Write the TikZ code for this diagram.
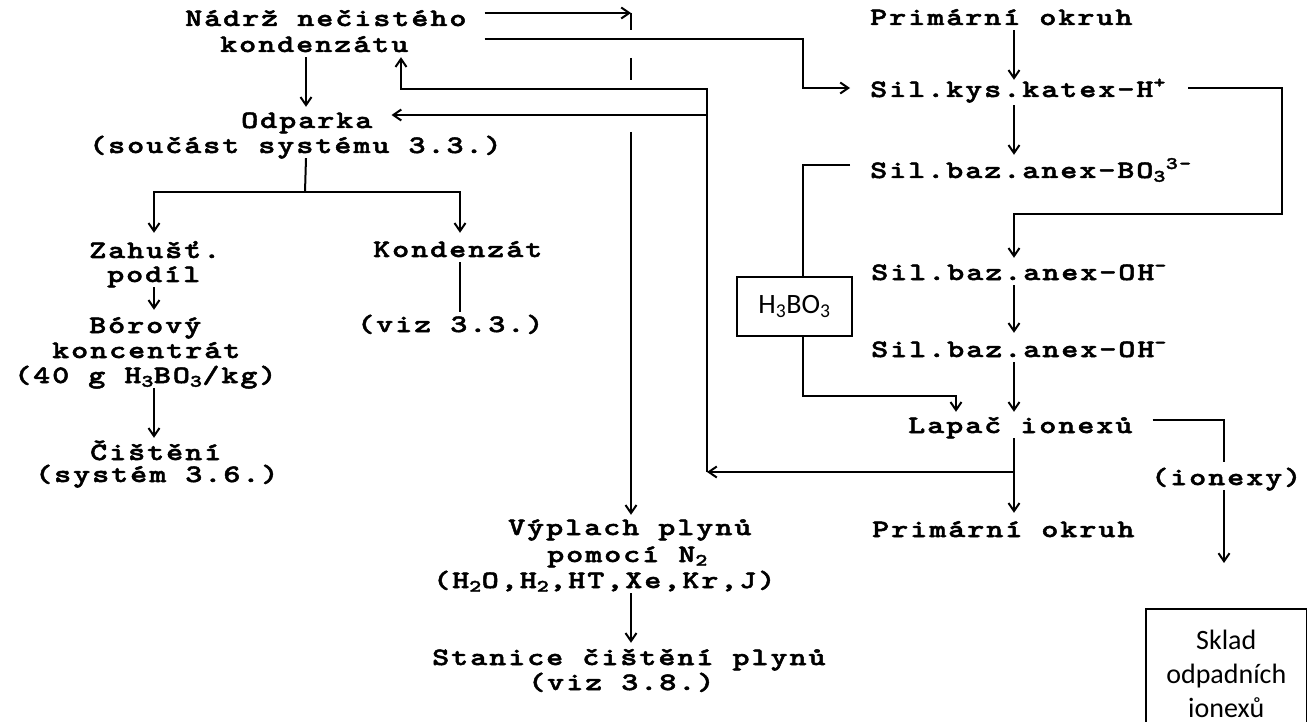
\documentclass[tikz,border=0pt]{standalone}
\usepackage{fontspec}
\usetikzlibrary{arrows.meta}
\newfontfamily\monof{lmmonolt10-bold.otf}[FakeStretch=1.3, LetterSpace=7.8, FakeBold=2]
\newfontfamily\sansf{Carlito}
\begin{document}
\begin{tikzpicture}[x=1pt,y=-1pt,
  txt/.style={font=\monof\fontsize{25}{25}\selectfont, inner sep=0pt, text height=15pt, text depth=5pt, anchor=west},
  ln/.style={line width=2pt, line cap=butt},
  arr/.style={ln, -{Straight Barb[length=8pt,width=11pt]}, shorten >=7pt},
  box/.style={draw, line width=1.6pt, fill=white, font=\sansf\fontsize{28}{34}\selectfont, align=center, inner sep=0pt}]

\useasboundingbox (0,0) rectangle (1307,722);

% ---------- text nodes ----------
\node[txt] (nadrz1) at (185,21) {Nádrž nečistého};
\node[txt] (nadrz2) at (220,47) {kondenzátu};
\node[txt] (odparka1) at (241,123) {Odparka};
\node[txt] (odparka2) at (89,148) {(součást systému 3.3.)};
\node[txt] (zahust1) at (89,253) {Zahušť.};
\node[txt] (zahust2) at (107,277) {podíl};
\node[txt] (borovy1) at (89,328) {Bórový};
\node[txt] (borovy2) at (52,353) {koncentrát};
\node[txt] (borovy3) at (14,378) {(40 g H\textsubscript{3}BO\textsubscript{3}/kg)};
\node[txt] (cisteni1) at (90,455) {Čištění};
\node[txt] (cisteni2) at (35,477) {(systém 3.6.)};
\node[txt] (kondenzat) at (373,252) {Kondenzát};
\node[txt] (viz33) at (357,327) {(viz 3.3.)};
\node[txt] (vyplach1) at (508,530) {Výplach plynů};
\node[txt] (vyplach2) at (547,557) {pomocí N\textsubscript{2}};
\node[txt] (vyplach3) at (433,583) {(H\textsubscript{2}O,H\textsubscript{2},HT,Xe,Kr,J)};
\node[txt] (stanice1) at (432,660) {Stanice čištění plynů};
\node[txt] (stanice2) at (528,685) {(viz 3.8.)};
\node[txt] (prim1) at (870,20) {Primární okruh};
\node[txt] (katex) at (870,92) {Sil.kys.katex-H\textsuperscript{+}};
\node[txt] (bo3) at (870,173) {Sil.baz.anex-BO\textsubscript{3}\textsuperscript{3-}};
\node[txt] (oh1) at (871,275) {Sil.baz.anex-OH\textsuperscript{-}};
\node[txt] (oh2) at (871,352) {Sil.baz.anex-OH\textsuperscript{-}};
\node[txt] (lapac) at (908,428) {Lapač ionexů};
\node[txt] (prim2) at (872,532) {Primární okruh};
\node[txt] (ionexy) at (1151,480) {(ionexy)};
\node[box, minimum width=161pt, minimum height=130pt, anchor=north west] (sklad) at (1145,608) {Sklad\\odpadních\\ionexů};

% ---------- column coordinates ----------
\coordinate (colR) at (1014,0);
\coordinate (colG) at (631,0);
\coordinate (colL) at (306,0);
\coordinate (colZ) at (154,0);
\coordinate (colK) at (460,0);
\coordinate (colI) at (1224,0);
\coordinate (colB) at (803,0);
\coordinate (colH) at (956,0);
\coordinate (colV) at (707,0);
\coordinate (colU) at (401,0);
\coordinate (rbc) at (1282,214);
\coordinate (hcorner) at (803,396);
\coordinate (rj) at (1014,472);
\coordinate (r1) at (401,89);
\coordinate (r3) at (707,115);
\coordinate (split) at (305,192);

% ---------- right column ----------
\draw[arr, shorten >=2pt] (prim1.south -| colR) -- (katex.north -| colR);
\draw[arr, shorten <=3pt, shorten >=8pt] (katex.south -| colR) -- (bo3.north -| colR);
\draw[arr, shorten >=9pt] (oh1.south -| colR) -- (oh2.north -| colR);
\draw[arr, shorten >=6pt] (oh2.south -| colR) -- (lapac.north -| colR);
\draw[arr, shorten >=9pt] (lapac.south -| colR) -- (prim2.north -| colR);
\draw[arr] ([xshift=22pt,yshift=4pt]katex.east) -| (rbc) -| (oh1.north -| colR);
\draw[arr, shorten >=6pt] ([xshift=-20pt,yshift=8pt]bo3.west) -| (hcorner) -| (lapac.north -| colH);
\node[box, minimum width=115pt, minimum height=59pt] (h3bo3) at (794.5,306.5) {H\textsubscript{3}BO\textsubscript{3}};
\draw[ln, shorten >=8pt] ([xshift=20pt,yshift=8pt]lapac.east) -| (ionexy.north -| colI);
\draw[arr, shorten >=45pt] (ionexy.south -| colI) -- (sklad.north -| colI);

% ---------- return line ----------
\draw[arr, shorten >=0pt] (rj) -- (rj -| colV);
\draw[arr, shorten >=0pt] (rj -| colV) |- (r1) -- (nadrz2.south -| colU);
\draw[arr, shorten >=19pt] (r3) -- (r3 -| odparka1.east);

% ---------- from the tank ----------
\coordinate (gtop) at ([yshift=8pt]nadrz1.east -| colG);
\draw[arr, shorten >=0pt] ([xshift=18pt,yshift=8pt]nadrz1.east) -- (gtop);
\draw[ln] (gtop) -- ++(0,17);
\draw[ln] (gtop) ++(0,45) -- ++(0,22);
\draw[arr, shorten >=5pt] (gtop) ++(0,119) -- (vyplach1.north -| colG);
\draw[arr, shorten >=20pt] ([xshift=18pt,yshift=-18pt]nadrz1.east) -| ([yshift=4pt]katex.west -| colB) -- ([yshift=4pt]katex.west);

% ---------- left part ----------
\draw[arr, shorten >=6pt] (nadrz2.south -| colL) -- (odparka1.north -| colL);
\draw[ln] (odparka2.south -| colL) -- (split);
\draw[arr, shorten >=10pt] (split) -| (zahust1.north -| colZ);
\draw[arr, shorten >=9pt] (split) -| (kondenzat.north -| colK);
\draw[arr, shorten >=8pt] (zahust2.south -| colZ) -- (borovy1.north -| colZ);
\draw[arr] (borovy3.south -| colZ) -- (cisteni1.north -| colZ);
\draw[ln, shorten >=5pt] (kondenzat.south -| colK) -- (viz33.north -| colK);
\draw[arr] (vyplach3.south -| colG) -- (stanice1.north -| colG);
\end{tikzpicture}
\end{document}
